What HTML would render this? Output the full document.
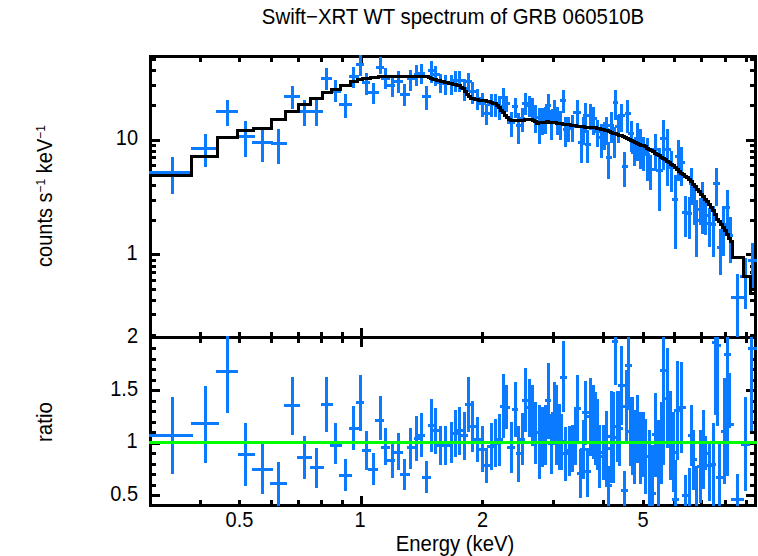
<!DOCTYPE html>
<html><head><meta charset="utf-8"><style>
html,body{margin:0;padding:0;background:#fff;}
svg{display:block;}
</style></head><body>
<svg width="758" height="556" viewBox="0 0 758 556">
<rect width="758" height="556" fill="#fff"/>
<g shape-rendering="crispEdges">
<clipPath id="ct"><rect x="149" y="55" width="608" height="284"/></clipPath>
<clipPath id="cb"><rect x="149" y="336" width="608" height="171"/></clipPath>
<rect x="149" y="55" width="608" height="3" fill="#000"/>
<rect x="149" y="336" width="608" height="3" fill="#000"/>
<rect x="149" y="504" width="608" height="3" fill="#000"/>
<rect x="149" y="55" width="3" height="452" fill="#000"/>
<rect x="754" y="55" width="3" height="452" fill="#000"/>
<rect x="199" y="58" width="3" height="4" fill="#000"/>
<rect x="199" y="332" width="3" height="4" fill="#000"/>
<rect x="199" y="339" width="3" height="4" fill="#000"/>
<rect x="199" y="500" width="3" height="4" fill="#000"/>
<rect x="238" y="58" width="3" height="4" fill="#000"/>
<rect x="238" y="332" width="3" height="4" fill="#000"/>
<rect x="238" y="339" width="3" height="4" fill="#000"/>
<rect x="238" y="500" width="3" height="4" fill="#000"/>
<rect x="270" y="58" width="3" height="4" fill="#000"/>
<rect x="270" y="332" width="3" height="4" fill="#000"/>
<rect x="270" y="339" width="3" height="4" fill="#000"/>
<rect x="270" y="500" width="3" height="4" fill="#000"/>
<rect x="297" y="58" width="3" height="4" fill="#000"/>
<rect x="297" y="332" width="3" height="4" fill="#000"/>
<rect x="297" y="339" width="3" height="4" fill="#000"/>
<rect x="297" y="500" width="3" height="4" fill="#000"/>
<rect x="320" y="58" width="3" height="4" fill="#000"/>
<rect x="320" y="332" width="3" height="4" fill="#000"/>
<rect x="320" y="339" width="3" height="4" fill="#000"/>
<rect x="320" y="500" width="3" height="4" fill="#000"/>
<rect x="341" y="58" width="3" height="4" fill="#000"/>
<rect x="341" y="332" width="3" height="4" fill="#000"/>
<rect x="341" y="339" width="3" height="4" fill="#000"/>
<rect x="341" y="500" width="3" height="4" fill="#000"/>
<rect x="481" y="58" width="3" height="4" fill="#000"/>
<rect x="481" y="332" width="3" height="4" fill="#000"/>
<rect x="481" y="339" width="3" height="4" fill="#000"/>
<rect x="481" y="500" width="3" height="4" fill="#000"/>
<rect x="552" y="58" width="3" height="4" fill="#000"/>
<rect x="552" y="332" width="3" height="4" fill="#000"/>
<rect x="552" y="339" width="3" height="4" fill="#000"/>
<rect x="552" y="500" width="3" height="4" fill="#000"/>
<rect x="602" y="58" width="3" height="4" fill="#000"/>
<rect x="602" y="332" width="3" height="4" fill="#000"/>
<rect x="602" y="339" width="3" height="4" fill="#000"/>
<rect x="602" y="500" width="3" height="4" fill="#000"/>
<rect x="642" y="58" width="3" height="4" fill="#000"/>
<rect x="642" y="332" width="3" height="4" fill="#000"/>
<rect x="642" y="339" width="3" height="4" fill="#000"/>
<rect x="642" y="500" width="3" height="4" fill="#000"/>
<rect x="673" y="58" width="3" height="4" fill="#000"/>
<rect x="673" y="332" width="3" height="4" fill="#000"/>
<rect x="673" y="339" width="3" height="4" fill="#000"/>
<rect x="673" y="500" width="3" height="4" fill="#000"/>
<rect x="700" y="58" width="3" height="4" fill="#000"/>
<rect x="700" y="332" width="3" height="4" fill="#000"/>
<rect x="700" y="339" width="3" height="4" fill="#000"/>
<rect x="700" y="500" width="3" height="4" fill="#000"/>
<rect x="724" y="58" width="3" height="4" fill="#000"/>
<rect x="724" y="332" width="3" height="4" fill="#000"/>
<rect x="724" y="339" width="3" height="4" fill="#000"/>
<rect x="724" y="500" width="3" height="4" fill="#000"/>
<rect x="745" y="58" width="3" height="4" fill="#000"/>
<rect x="745" y="332" width="3" height="4" fill="#000"/>
<rect x="745" y="339" width="3" height="4" fill="#000"/>
<rect x="745" y="500" width="3" height="4" fill="#000"/>
<rect x="360" y="58" width="3" height="8" fill="#000"/>
<rect x="360" y="328" width="3" height="8" fill="#000"/>
<rect x="360" y="339" width="3" height="8" fill="#000"/>
<rect x="360" y="496" width="3" height="8" fill="#000"/>
<rect x="152" y="334" width="4" height="3" fill="#000"/>
<rect x="750" y="334" width="4" height="3" fill="#000"/>
<rect x="152" y="313" width="4" height="3" fill="#000"/>
<rect x="750" y="313" width="4" height="3" fill="#000"/>
<rect x="152" y="299" width="4" height="3" fill="#000"/>
<rect x="750" y="299" width="4" height="3" fill="#000"/>
<rect x="152" y="288" width="4" height="3" fill="#000"/>
<rect x="750" y="288" width="4" height="3" fill="#000"/>
<rect x="152" y="279" width="4" height="3" fill="#000"/>
<rect x="750" y="279" width="4" height="3" fill="#000"/>
<rect x="152" y="271" width="4" height="3" fill="#000"/>
<rect x="750" y="271" width="4" height="3" fill="#000"/>
<rect x="152" y="265" width="4" height="3" fill="#000"/>
<rect x="750" y="265" width="4" height="3" fill="#000"/>
<rect x="152" y="259" width="4" height="3" fill="#000"/>
<rect x="750" y="259" width="4" height="3" fill="#000"/>
<rect x="152" y="253" width="8" height="3" fill="#000"/>
<rect x="746" y="253" width="8" height="3" fill="#000"/>
<rect x="152" y="219" width="4" height="3" fill="#000"/>
<rect x="750" y="219" width="4" height="3" fill="#000"/>
<rect x="152" y="199" width="4" height="3" fill="#000"/>
<rect x="750" y="199" width="4" height="3" fill="#000"/>
<rect x="152" y="184" width="4" height="3" fill="#000"/>
<rect x="750" y="184" width="4" height="3" fill="#000"/>
<rect x="152" y="173" width="4" height="3" fill="#000"/>
<rect x="750" y="173" width="4" height="3" fill="#000"/>
<rect x="152" y="164" width="4" height="3" fill="#000"/>
<rect x="750" y="164" width="4" height="3" fill="#000"/>
<rect x="152" y="156" width="4" height="3" fill="#000"/>
<rect x="750" y="156" width="4" height="3" fill="#000"/>
<rect x="152" y="150" width="4" height="3" fill="#000"/>
<rect x="750" y="150" width="4" height="3" fill="#000"/>
<rect x="152" y="144" width="4" height="3" fill="#000"/>
<rect x="750" y="144" width="4" height="3" fill="#000"/>
<rect x="152" y="139" width="8" height="3" fill="#000"/>
<rect x="746" y="139" width="8" height="3" fill="#000"/>
<rect x="152" y="104" width="4" height="3" fill="#000"/>
<rect x="750" y="104" width="4" height="3" fill="#000"/>
<rect x="152" y="84" width="4" height="3" fill="#000"/>
<rect x="750" y="84" width="4" height="3" fill="#000"/>
<rect x="152" y="69" width="4" height="3" fill="#000"/>
<rect x="750" y="69" width="4" height="3" fill="#000"/>
<rect x="152" y="58" width="4" height="3" fill="#000"/>
<rect x="750" y="58" width="4" height="3" fill="#000"/>
<rect x="152" y="494" width="8" height="3" fill="#000"/>
<rect x="746" y="494" width="8" height="3" fill="#000"/>
<rect x="152" y="484" width="4" height="3" fill="#000"/>
<rect x="750" y="484" width="4" height="3" fill="#000"/>
<rect x="152" y="473" width="4" height="3" fill="#000"/>
<rect x="750" y="473" width="4" height="3" fill="#000"/>
<rect x="152" y="463" width="4" height="3" fill="#000"/>
<rect x="750" y="463" width="4" height="3" fill="#000"/>
<rect x="152" y="452" width="4" height="3" fill="#000"/>
<rect x="750" y="452" width="4" height="3" fill="#000"/>
<rect x="152" y="442" width="8" height="3" fill="#000"/>
<rect x="746" y="442" width="8" height="3" fill="#000"/>
<rect x="152" y="431" width="4" height="3" fill="#000"/>
<rect x="750" y="431" width="4" height="3" fill="#000"/>
<rect x="152" y="421" width="4" height="3" fill="#000"/>
<rect x="750" y="421" width="4" height="3" fill="#000"/>
<rect x="152" y="410" width="4" height="3" fill="#000"/>
<rect x="750" y="410" width="4" height="3" fill="#000"/>
<rect x="152" y="400" width="4" height="3" fill="#000"/>
<rect x="750" y="400" width="4" height="3" fill="#000"/>
<rect x="152" y="389" width="8" height="3" fill="#000"/>
<rect x="746" y="389" width="8" height="3" fill="#000"/>
<rect x="152" y="379" width="4" height="3" fill="#000"/>
<rect x="750" y="379" width="4" height="3" fill="#000"/>
<rect x="152" y="368" width="4" height="3" fill="#000"/>
<rect x="750" y="368" width="4" height="3" fill="#000"/>
<rect x="152" y="358" width="4" height="3" fill="#000"/>
<rect x="750" y="358" width="4" height="3" fill="#000"/>
<rect x="152" y="347" width="4" height="3" fill="#000"/>
<rect x="750" y="347" width="4" height="3" fill="#000"/>
<g clip-path="url(#ct)">
<rect x="171" y="157" width="3" height="37" fill="#0a7aff"/>
<rect x="149" y="171" width="41" height="3" fill="#0a7aff"/>
<rect x="204" y="134" width="3" height="33" fill="#0a7aff"/>
<rect x="191" y="147" width="25" height="3" fill="#0a7aff"/>
<rect x="226" y="100" width="3" height="26" fill="#0a7aff"/>
<rect x="216" y="110" width="22" height="3" fill="#0a7aff"/>
<rect x="244" y="121" width="3" height="36" fill="#0a7aff"/>
<rect x="238" y="135" width="17" height="3" fill="#0a7aff"/>
<rect x="261" y="130" width="3" height="32" fill="#0a7aff"/>
<rect x="252" y="141" width="21" height="3" fill="#0a7aff"/>
<rect x="277" y="129" width="3" height="35" fill="#0a7aff"/>
<rect x="271" y="142" width="16" height="3" fill="#0a7aff"/>
<rect x="291" y="86" width="3" height="23" fill="#0a7aff"/>
<rect x="284" y="95" width="16" height="3" fill="#0a7aff"/>
<rect x="303" y="100" width="3" height="26" fill="#0a7aff"/>
<rect x="300" y="110" width="11" height="3" fill="#0a7aff"/>
<rect x="315" y="100" width="3" height="26" fill="#0a7aff"/>
<rect x="311" y="110" width="12" height="3" fill="#0a7aff"/>
<rect x="325" y="68" width="3" height="22" fill="#0a7aff"/>
<rect x="321" y="77" width="11" height="3" fill="#0a7aff"/>
<rect x="334" y="80" width="3" height="22" fill="#0a7aff"/>
<rect x="332" y="90" width="9" height="3" fill="#0a7aff"/>
<rect x="344" y="94" width="3" height="24" fill="#0a7aff"/>
<rect x="339" y="103" width="13" height="3" fill="#0a7aff"/>
<rect x="352" y="67" width="3" height="21" fill="#0a7aff"/>
<rect x="349" y="75" width="10" height="3" fill="#0a7aff"/>
<rect x="359" y="55" width="3" height="21" fill="#0a7aff"/>
<rect x="356" y="63" width="8" height="3" fill="#0a7aff"/>
<rect x="365" y="73" width="3" height="22" fill="#0a7aff"/>
<rect x="362" y="81" width="8" height="3" fill="#0a7aff"/>
<rect x="372" y="83" width="3" height="21" fill="#0a7aff"/>
<rect x="368" y="91" width="11" height="3" fill="#0a7aff"/>
<rect x="379" y="57" width="3" height="17" fill="#0a7aff"/>
<rect x="376" y="66" width="8" height="3" fill="#0a7aff"/>
<rect x="384" y="68" width="3" height="21" fill="#0a7aff"/>
<rect x="381" y="77" width="9" height="3" fill="#0a7aff"/>
<rect x="391" y="77" width="3" height="20" fill="#0a7aff"/>
<rect x="386" y="84" width="9" height="3" fill="#0a7aff"/>
<rect x="397" y="71" width="3" height="22" fill="#0a7aff"/>
<rect x="393" y="80" width="10" height="3" fill="#0a7aff"/>
<rect x="403" y="84" width="3" height="22" fill="#0a7aff"/>
<rect x="400" y="93" width="10" height="3" fill="#0a7aff"/>
<rect x="409" y="70" width="3" height="21" fill="#0a7aff"/>
<rect x="407" y="77" width="8" height="3" fill="#0a7aff"/>
<rect x="415" y="65" width="3" height="21" fill="#0a7aff"/>
<rect x="414" y="73" width="6" height="3" fill="#0a7aff"/>
<rect x="420" y="64" width="3" height="20" fill="#0a7aff"/>
<rect x="417" y="72" width="8" height="3" fill="#0a7aff"/>
<rect x="425" y="86" width="3" height="24" fill="#0a7aff"/>
<rect x="422" y="95" width="9" height="3" fill="#0a7aff"/>
<rect x="430" y="61" width="3" height="22" fill="#0a7aff"/>
<rect x="428" y="69" width="7" height="3" fill="#0a7aff"/>
<rect x="434" y="66" width="3" height="20" fill="#0a7aff"/>
<rect x="432" y="73" width="8" height="3" fill="#0a7aff"/>
<rect x="439" y="74" width="3" height="19" fill="#0a7aff"/>
<rect x="437" y="81" width="7" height="3" fill="#0a7aff"/>
<rect x="444" y="75" width="3" height="20" fill="#0a7aff"/>
<rect x="441" y="82" width="9" height="3" fill="#0a7aff"/>
<rect x="450" y="75" width="3" height="20" fill="#0a7aff"/>
<rect x="447" y="82" width="8" height="3" fill="#0a7aff"/>
<rect x="454" y="71" width="3" height="21" fill="#0a7aff"/>
<rect x="452" y="79" width="7" height="3" fill="#0a7aff"/>
<rect x="458" y="71" width="3" height="21" fill="#0a7aff"/>
<rect x="456" y="79" width="7" height="3" fill="#0a7aff"/>
<rect x="463" y="79" width="3" height="22" fill="#0a7aff"/>
<rect x="460" y="87" width="8" height="3" fill="#0a7aff"/>
<rect x="467" y="73" width="3" height="19" fill="#0a7aff"/>
<rect x="465" y="80" width="7" height="3" fill="#0a7aff"/>
<rect x="471" y="82" width="3" height="22" fill="#0a7aff"/>
<rect x="469" y="90" width="8" height="3" fill="#0a7aff"/>
<rect x="476" y="89" width="3" height="21" fill="#0a7aff"/>
<rect x="474" y="97" width="7" height="3" fill="#0a7aff"/>
<rect x="481" y="93" width="3" height="24" fill="#0a7aff"/>
<rect x="478" y="102" width="8" height="3" fill="#0a7aff"/>
<rect x="485" y="104" width="3" height="21" fill="#0a7aff"/>
<rect x="483" y="112" width="7" height="3" fill="#0a7aff"/>
<rect x="490" y="94" width="3" height="23" fill="#0a7aff"/>
<rect x="487" y="103" width="8" height="3" fill="#0a7aff"/>
<rect x="494" y="94" width="3" height="23" fill="#0a7aff"/>
<rect x="492" y="103" width="7" height="3" fill="#0a7aff"/>
<rect x="498" y="96" width="3" height="24" fill="#0a7aff"/>
<rect x="496" y="105" width="7" height="3" fill="#0a7aff"/>
<rect x="502" y="88" width="3" height="23" fill="#0a7aff"/>
<rect x="500" y="96" width="6" height="3" fill="#0a7aff"/>
<rect x="505" y="96" width="3" height="16" fill="#0a7aff"/>
<rect x="503" y="102" width="7" height="3" fill="#0a7aff"/>
<rect x="510" y="112" width="3" height="25" fill="#0a7aff"/>
<rect x="507" y="121" width="8" height="3" fill="#0a7aff"/>
<rect x="514" y="98" width="3" height="20" fill="#0a7aff"/>
<rect x="512" y="105" width="6" height="3" fill="#0a7aff"/>
<rect x="517" y="113" width="3" height="31" fill="#0a7aff"/>
<rect x="516" y="124" width="6" height="3" fill="#0a7aff"/>
<rect x="521" y="108" width="3" height="24" fill="#0a7aff"/>
<rect x="519" y="117" width="6" height="3" fill="#0a7aff"/>
<rect x="524" y="93" width="3" height="22" fill="#0a7aff"/>
<rect x="522" y="102" width="7" height="3" fill="#0a7aff"/>
<rect x="528" y="96" width="3" height="21" fill="#0a7aff"/>
<rect x="526" y="104" width="7" height="3" fill="#0a7aff"/>
<rect x="531" y="98" width="3" height="24" fill="#0a7aff"/>
<rect x="530" y="107" width="6" height="3" fill="#0a7aff"/>
<rect x="534" y="105" width="3" height="28" fill="#0a7aff"/>
<rect x="533" y="116" width="6" height="3" fill="#0a7aff"/>
<rect x="538" y="108" width="3" height="36" fill="#0a7aff"/>
<rect x="536" y="121" width="7" height="3" fill="#0a7aff"/>
<rect x="541" y="108" width="3" height="27" fill="#0a7aff"/>
<rect x="540" y="118" width="5" height="3" fill="#0a7aff"/>
<rect x="544" y="107" width="3" height="27" fill="#0a7aff"/>
<rect x="542" y="117" width="6" height="3" fill="#0a7aff"/>
<rect x="547" y="94" width="3" height="26" fill="#0a7aff"/>
<rect x="545" y="104" width="6" height="3" fill="#0a7aff"/>
<rect x="550" y="110" width="3" height="30" fill="#0a7aff"/>
<rect x="548" y="121" width="6" height="3" fill="#0a7aff"/>
<rect x="553" y="100" width="3" height="24" fill="#0a7aff"/>
<rect x="551" y="109" width="7" height="3" fill="#0a7aff"/>
<rect x="556" y="107" width="3" height="28" fill="#0a7aff"/>
<rect x="554" y="118" width="7" height="3" fill="#0a7aff"/>
<rect x="559" y="111" width="3" height="29" fill="#0a7aff"/>
<rect x="558" y="122" width="5" height="3" fill="#0a7aff"/>
<rect x="562" y="90" width="3" height="23" fill="#0a7aff"/>
<rect x="560" y="99" width="6" height="3" fill="#0a7aff"/>
<rect x="564" y="117" width="3" height="30" fill="#0a7aff"/>
<rect x="563" y="128" width="5" height="3" fill="#0a7aff"/>
<rect x="567" y="117" width="3" height="25" fill="#0a7aff"/>
<rect x="565" y="127" width="7" height="3" fill="#0a7aff"/>
<rect x="571" y="115" width="3" height="27" fill="#0a7aff"/>
<rect x="569" y="125" width="7" height="3" fill="#0a7aff"/>
<rect x="576" y="100" width="3" height="28" fill="#0a7aff"/>
<rect x="573" y="111" width="8" height="3" fill="#0a7aff"/>
<rect x="580" y="128" width="3" height="35" fill="#0a7aff"/>
<rect x="578" y="141" width="6" height="3" fill="#0a7aff"/>
<rect x="582" y="117" width="3" height="28" fill="#0a7aff"/>
<rect x="580" y="128" width="6" height="3" fill="#0a7aff"/>
<rect x="584" y="103" width="3" height="30" fill="#0a7aff"/>
<rect x="583" y="114" width="5" height="3" fill="#0a7aff"/>
<rect x="586" y="130" width="3" height="33" fill="#0a7aff"/>
<rect x="585" y="143" width="6" height="3" fill="#0a7aff"/>
<rect x="589" y="104" width="3" height="26" fill="#0a7aff"/>
<rect x="588" y="114" width="6" height="3" fill="#0a7aff"/>
<rect x="592" y="107" width="3" height="28" fill="#0a7aff"/>
<rect x="591" y="117" width="6" height="3" fill="#0a7aff"/>
<rect x="596" y="120" width="3" height="27" fill="#0a7aff"/>
<rect x="594" y="130" width="7" height="3" fill="#0a7aff"/>
<rect x="600" y="124" width="3" height="34" fill="#0a7aff"/>
<rect x="598" y="136" width="6" height="3" fill="#0a7aff"/>
<rect x="603" y="122" width="3" height="28" fill="#0a7aff"/>
<rect x="602" y="132" width="5" height="3" fill="#0a7aff"/>
<rect x="605" y="117" width="3" height="28" fill="#0a7aff"/>
<rect x="604" y="128" width="5" height="3" fill="#0a7aff"/>
<rect x="607" y="142" width="3" height="37" fill="#0a7aff"/>
<rect x="606" y="156" width="6" height="3" fill="#0a7aff"/>
<rect x="610" y="112" width="3" height="31" fill="#0a7aff"/>
<rect x="608" y="124" width="6" height="3" fill="#0a7aff"/>
<rect x="613" y="127" width="3" height="31" fill="#0a7aff"/>
<rect x="611" y="139" width="5" height="3" fill="#0a7aff"/>
<rect x="614" y="90" width="3" height="30" fill="#0a7aff"/>
<rect x="613" y="101" width="5" height="3" fill="#0a7aff"/>
<rect x="617" y="115" width="3" height="28" fill="#0a7aff"/>
<rect x="615" y="125" width="7" height="3" fill="#0a7aff"/>
<rect x="620" y="104" width="3" height="28" fill="#0a7aff"/>
<rect x="618" y="114" width="7" height="3" fill="#0a7aff"/>
<rect x="623" y="152" width="3" height="35" fill="#0a7aff"/>
<rect x="622" y="165" width="6" height="3" fill="#0a7aff"/>
<rect x="626" y="100" width="3" height="33" fill="#0a7aff"/>
<rect x="625" y="112" width="6" height="3" fill="#0a7aff"/>
<rect x="630" y="121" width="3" height="31" fill="#0a7aff"/>
<rect x="628" y="132" width="6" height="3" fill="#0a7aff"/>
<rect x="633" y="142" width="3" height="24" fill="#0a7aff"/>
<rect x="631" y="151" width="7" height="3" fill="#0a7aff"/>
<rect x="636" y="123" width="3" height="38" fill="#0a7aff"/>
<rect x="634" y="137" width="6" height="3" fill="#0a7aff"/>
<rect x="639" y="129" width="3" height="40" fill="#0a7aff"/>
<rect x="638" y="144" width="6" height="3" fill="#0a7aff"/>
<rect x="642" y="137" width="3" height="34" fill="#0a7aff"/>
<rect x="640" y="150" width="7" height="3" fill="#0a7aff"/>
<rect x="646" y="138" width="3" height="43" fill="#0a7aff"/>
<rect x="644" y="153" width="6" height="3" fill="#0a7aff"/>
<rect x="649" y="155" width="3" height="35" fill="#0a7aff"/>
<rect x="647" y="168" width="8" height="3" fill="#0a7aff"/>
<rect x="654" y="134" width="3" height="37" fill="#0a7aff"/>
<rect x="652" y="148" width="7" height="3" fill="#0a7aff"/>
<rect x="658" y="148" width="3" height="63" fill="#0a7aff"/>
<rect x="656" y="169" width="7" height="3" fill="#0a7aff"/>
<rect x="662" y="120" width="3" height="50" fill="#0a7aff"/>
<rect x="660" y="137" width="6" height="3" fill="#0a7aff"/>
<rect x="666" y="129" width="3" height="57" fill="#0a7aff"/>
<rect x="664" y="148" width="7" height="3" fill="#0a7aff"/>
<rect x="670" y="151" width="3" height="41" fill="#0a7aff"/>
<rect x="668" y="166" width="7" height="3" fill="#0a7aff"/>
<rect x="674" y="175" width="3" height="74" fill="#0a7aff"/>
<rect x="672" y="198" width="6" height="3" fill="#0a7aff"/>
<rect x="677" y="140" width="3" height="41" fill="#0a7aff"/>
<rect x="675" y="155" width="7" height="3" fill="#0a7aff"/>
<rect x="680" y="147" width="3" height="39" fill="#0a7aff"/>
<rect x="679" y="161" width="6" height="3" fill="#0a7aff"/>
<rect x="684" y="196" width="3" height="41" fill="#0a7aff"/>
<rect x="682" y="211" width="7" height="3" fill="#0a7aff"/>
<rect x="688" y="197" width="3" height="42" fill="#0a7aff"/>
<rect x="686" y="212" width="6" height="3" fill="#0a7aff"/>
<rect x="690" y="168" width="3" height="37" fill="#0a7aff"/>
<rect x="689" y="182" width="5" height="3" fill="#0a7aff"/>
<rect x="693" y="186" width="3" height="39" fill="#0a7aff"/>
<rect x="691" y="200" width="6" height="3" fill="#0a7aff"/>
<rect x="695" y="200" width="3" height="57" fill="#0a7aff"/>
<rect x="694" y="219" width="6" height="3" fill="#0a7aff"/>
<rect x="699" y="198" width="3" height="27" fill="#0a7aff"/>
<rect x="697" y="208" width="6" height="3" fill="#0a7aff"/>
<rect x="701" y="182" width="3" height="52" fill="#0a7aff"/>
<rect x="700" y="200" width="6" height="3" fill="#0a7aff"/>
<rect x="704" y="202" width="3" height="33" fill="#0a7aff"/>
<rect x="703" y="214" width="6" height="3" fill="#0a7aff"/>
<rect x="708" y="208" width="3" height="39" fill="#0a7aff"/>
<rect x="706" y="222" width="7" height="3" fill="#0a7aff"/>
<rect x="712" y="206" width="3" height="51" fill="#0a7aff"/>
<rect x="710" y="223" width="6" height="3" fill="#0a7aff"/>
<rect x="715" y="168" width="3" height="38" fill="#0a7aff"/>
<rect x="713" y="182" width="7" height="3" fill="#0a7aff"/>
<rect x="719" y="229" width="3" height="46" fill="#0a7aff"/>
<rect x="717" y="246" width="7" height="3" fill="#0a7aff"/>
<rect x="722" y="206" width="3" height="50" fill="#0a7aff"/>
<rect x="721" y="223" width="6" height="3" fill="#0a7aff"/>
<rect x="726" y="190" width="3" height="45" fill="#0a7aff"/>
<rect x="724" y="206" width="6" height="3" fill="#0a7aff"/>
<rect x="729" y="217" width="3" height="46" fill="#0a7aff"/>
<rect x="728" y="234" width="5" height="3" fill="#0a7aff"/>
<rect x="736" y="274" width="3" height="63" fill="#0a7aff"/>
<rect x="731" y="296" width="13" height="3" fill="#0a7aff"/>
<rect x="744" y="258" width="3" height="51" fill="#0a7aff"/>
<rect x="740" y="275" width="10" height="3" fill="#0a7aff"/>
<rect x="751" y="243" width="3" height="45" fill="#0a7aff"/>
<rect x="748" y="259" width="9" height="3" fill="#0a7aff"/>
<path d="M150,175.4H191V156.7H217V137.8H237V130.8H253V128.6H271V119.4H285V111.7H298V104.3H310V98.3H322V92.7H331V89.0H340V85.1H350V81.7H357V79.3H362V78.0H370V77.0H378V76.2H380V76.0H382V76.0H384V76.0H386V76.1H388V76.1H390V76.1H392V76.1H394V76.1H396V76.1H398V76.1H400V76.2H402V76.2H404V76.2H406V76.2H408V76.2H410V76.2H412V76.2H414V76.3H416V76.3H418V76.3H420V76.4H422V76.5H424V76.7H426V76.8H428V77.3H430V78.1H432V79.0H434V79.8H436V80.3H438V80.9H440V81.4H442V81.9H444V82.4H446V82.9H448V83.3H450V83.8H452V84.3H454V84.8H456V85.3H458V85.8H460V87.0H462V88.2H464V91.7H466V94.5H468V96.7H470V98.0H472V98.7H474V99.4H476V99.7H478V100.0H480V100.3H482V100.6H484V100.9H486V101.3H488V101.6H490V102.2H492V103.0H494V103.8H496V105.4H498V107.7H500V110.1H502V112.8H504V115.4H506V117.5H508V119.3H510V120.2H512V120.3H514V120.4H516V120.3H518V120.2H520V120.1H522V120.0H524V119.9H526V119.8H528V119.8H530V119.9H532V120.0H534V121.5H536V123.0H538V122.8H540V122.6H542V122.4H544V122.2H546V121.9H548V122.0H550V122.3H552V122.6H554V122.9H556V123.2H558V123.5H560V123.8H562V124.1H564V124.4H566V124.6H568V124.9H570V125.2H572V125.4H574V125.7H576V126.0H578V126.2H580V126.5H582V126.8H584V127.0H586V127.3H588V127.6H590V127.7H592V127.8H594V127.9H596V128.4H598V128.9H600V129.4H602V129.9H604V130.4H606V130.9H608V131.6H610V132.3H612V133.0H614V133.7H616V134.4H618V135.1H620V135.8H622V136.8H624V137.7H626V138.7H628V139.6H630V140.6H632V141.5H634V142.5H636V143.3H638V144.2H640V145.0H642V145.9H644V146.7H646V148.0H648V149.3H650V150.6H652V151.9H654V153.2H656V154.5H658V155.8H660V157.1H662V158.4H664V159.8H666V161.2H668V162.6H670V164.0H672V165.6H674V167.5H676V169.4H678V171.3H680V173.0H682V174.6H684V176.2H686V177.8H688V179.4H690V181.9H692V184.4H694V186.9H696V189.4H698V191.9H700V194.4H702V196.9H704V199.4H706V201.9H708V204.7H710V207.6H712V210.4H714V214.7H716V219.0H718V221.9H720V224.9H722V227.7H724V230.6H726V234.5H728V238.3H730V241.3H732V243.2H732.5V257.3H743V276.6H750.5V293.0H755" fill="none" stroke="#000" stroke-width="3"/>
</g>
<g clip-path="url(#cb)">
<rect x="555" y="385" width="3" height="80" fill="#0a7aff"/>
<rect x="553" y="424" width="7" height="3" fill="#0a7aff"/>
<rect x="558" y="404" width="3" height="66" fill="#0a7aff"/>
<rect x="556" y="436" width="7" height="3" fill="#0a7aff"/>
<rect x="560" y="414" width="3" height="56" fill="#0a7aff"/>
<rect x="558" y="440" width="8" height="3" fill="#0a7aff"/>
<rect x="562" y="341" width="3" height="71" fill="#0a7aff"/>
<rect x="560" y="376" width="7" height="3" fill="#0a7aff"/>
<rect x="564" y="427" width="3" height="54" fill="#0a7aff"/>
<rect x="562" y="452" width="6" height="3" fill="#0a7aff"/>
<rect x="568" y="426" width="3" height="50" fill="#0a7aff"/>
<rect x="566" y="449" width="6" height="3" fill="#0a7aff"/>
<rect x="571" y="425" width="3" height="47" fill="#0a7aff"/>
<rect x="569" y="447" width="7" height="3" fill="#0a7aff"/>
<rect x="574" y="409" width="3" height="56" fill="#0a7aff"/>
<rect x="572" y="435" width="6" height="3" fill="#0a7aff"/>
<rect x="576" y="375" width="3" height="66" fill="#0a7aff"/>
<rect x="574" y="407" width="7" height="3" fill="#0a7aff"/>
<rect x="579" y="449" width="3" height="49" fill="#0a7aff"/>
<rect x="577" y="472" width="7" height="3" fill="#0a7aff"/>
<rect x="582" y="420" width="3" height="59" fill="#0a7aff"/>
<rect x="580" y="448" width="6" height="3" fill="#0a7aff"/>
<rect x="584" y="381" width="3" height="64" fill="#0a7aff"/>
<rect x="582" y="411" width="7" height="3" fill="#0a7aff"/>
<rect x="586" y="448" width="3" height="49" fill="#0a7aff"/>
<rect x="584" y="470" width="7" height="3" fill="#0a7aff"/>
<rect x="589" y="378" width="3" height="78" fill="#0a7aff"/>
<rect x="587" y="415" width="7" height="3" fill="#0a7aff"/>
<rect x="592" y="385" width="3" height="74" fill="#0a7aff"/>
<rect x="590" y="420" width="6" height="3" fill="#0a7aff"/>
<rect x="594" y="392" width="3" height="73" fill="#0a7aff"/>
<rect x="592" y="427" width="7" height="3" fill="#0a7aff"/>
<rect x="596" y="399" width="3" height="71" fill="#0a7aff"/>
<rect x="594" y="433" width="7" height="3" fill="#0a7aff"/>
<rect x="598" y="425" width="3" height="63" fill="#0a7aff"/>
<rect x="596" y="455" width="8" height="3" fill="#0a7aff"/>
<rect x="602" y="425" width="3" height="55" fill="#0a7aff"/>
<rect x="600" y="451" width="6" height="3" fill="#0a7aff"/>
<rect x="605" y="411" width="3" height="75" fill="#0a7aff"/>
<rect x="603" y="447" width="7" height="3" fill="#0a7aff"/>
<rect x="607" y="466" width="3" height="40" fill="#0a7aff"/>
<rect x="605" y="484" width="7" height="3" fill="#0a7aff"/>
<rect x="610" y="391" width="3" height="92" fill="#0a7aff"/>
<rect x="608" y="435" width="7" height="3" fill="#0a7aff"/>
<rect x="612" y="392" width="3" height="91" fill="#0a7aff"/>
<rect x="610" y="436" width="6" height="3" fill="#0a7aff"/>
<rect x="614" y="337" width="3" height="48" fill="#0a7aff"/>
<rect x="612" y="340" width="6" height="3" fill="#0a7aff"/>
<rect x="616" y="391" width="3" height="71" fill="#0a7aff"/>
<rect x="614" y="425" width="6" height="3" fill="#0a7aff"/>
<rect x="618" y="391" width="3" height="75" fill="#0a7aff"/>
<rect x="616" y="427" width="7" height="3" fill="#0a7aff"/>
<rect x="620" y="346" width="3" height="79" fill="#0a7aff"/>
<rect x="618" y="384" width="7" height="3" fill="#0a7aff"/>
<rect x="623" y="471" width="3" height="35" fill="#0a7aff"/>
<rect x="621" y="489" width="7" height="3" fill="#0a7aff"/>
<rect x="625" y="370" width="3" height="74" fill="#0a7aff"/>
<rect x="623" y="405" width="7" height="3" fill="#0a7aff"/>
<rect x="627" y="337" width="3" height="73" fill="#0a7aff"/>
<rect x="625" y="364" width="7" height="3" fill="#0a7aff"/>
<rect x="629" y="397" width="3" height="69" fill="#0a7aff"/>
<rect x="627" y="430" width="7" height="3" fill="#0a7aff"/>
<rect x="631" y="397" width="3" height="78" fill="#0a7aff"/>
<rect x="629" y="434" width="7" height="3" fill="#0a7aff"/>
<rect x="633" y="410" width="3" height="74" fill="#0a7aff"/>
<rect x="631" y="446" width="7" height="3" fill="#0a7aff"/>
<rect x="636" y="395" width="3" height="68" fill="#0a7aff"/>
<rect x="634" y="428" width="7" height="3" fill="#0a7aff"/>
<rect x="639" y="412" width="3" height="72" fill="#0a7aff"/>
<rect x="637" y="447" width="7" height="3" fill="#0a7aff"/>
<rect x="642" y="412" width="3" height="65" fill="#0a7aff"/>
<rect x="640" y="443" width="6" height="3" fill="#0a7aff"/>
<rect x="644" y="419" width="3" height="75" fill="#0a7aff"/>
<rect x="642" y="455" width="8" height="3" fill="#0a7aff"/>
<rect x="648" y="430" width="3" height="76" fill="#0a7aff"/>
<rect x="651" y="445" width="3" height="61" fill="#0a7aff"/>
<rect x="649" y="492" width="7" height="3" fill="#0a7aff"/>
<rect x="654" y="393" width="3" height="84" fill="#0a7aff"/>
<rect x="652" y="433" width="7" height="3" fill="#0a7aff"/>
<rect x="657" y="420" width="3" height="86" fill="#0a7aff"/>
<rect x="660" y="402" width="3" height="82" fill="#0a7aff"/>
<rect x="658" y="442" width="7" height="3" fill="#0a7aff"/>
<rect x="662" y="337" width="3" height="128" fill="#0a7aff"/>
<rect x="660" y="369" width="7" height="3" fill="#0a7aff"/>
<rect x="666" y="348" width="3" height="100" fill="#0a7aff"/>
<rect x="664" y="397" width="6" height="3" fill="#0a7aff"/>
<rect x="669" y="391" width="3" height="89" fill="#0a7aff"/>
<rect x="667" y="434" width="7" height="3" fill="#0a7aff"/>
<rect x="672" y="412" width="3" height="80" fill="#0a7aff"/>
<rect x="670" y="451" width="7" height="3" fill="#0a7aff"/>
<rect x="674" y="460" width="3" height="46" fill="#0a7aff"/>
<rect x="672" y="498" width="7" height="3" fill="#0a7aff"/>
<rect x="676" y="361" width="3" height="99" fill="#0a7aff"/>
<rect x="674" y="409" width="8" height="3" fill="#0a7aff"/>
<rect x="680" y="362" width="3" height="91" fill="#0a7aff"/>
<rect x="678" y="406" width="8" height="3" fill="#0a7aff"/>
<rect x="684" y="475" width="3" height="31" fill="#0a7aff"/>
<rect x="682" y="494" width="8" height="3" fill="#0a7aff"/>
<rect x="688" y="468" width="3" height="38" fill="#0a7aff"/>
<rect x="690" y="405" width="3" height="61" fill="#0a7aff"/>
<rect x="688" y="434" width="7" height="3" fill="#0a7aff"/>
<rect x="692" y="430" width="3" height="60" fill="#0a7aff"/>
<rect x="690" y="458" width="7" height="3" fill="#0a7aff"/>
<rect x="695" y="466" width="3" height="40" fill="#0a7aff"/>
<rect x="699" y="430" width="3" height="73" fill="#0a7aff"/>
<rect x="697" y="465" width="7" height="3" fill="#0a7aff"/>
<rect x="702" y="410" width="3" height="79" fill="#0a7aff"/>
<rect x="700" y="448" width="7" height="3" fill="#0a7aff"/>
<rect x="704" y="436" width="3" height="34" fill="#0a7aff"/>
<rect x="702" y="452" width="8" height="3" fill="#0a7aff"/>
<rect x="708" y="441" width="3" height="60" fill="#0a7aff"/>
<rect x="706" y="464" width="7" height="3" fill="#0a7aff"/>
<rect x="712" y="423" width="3" height="83" fill="#0a7aff"/>
<rect x="710" y="463" width="6" height="3" fill="#0a7aff"/>
<rect x="714" y="337" width="3" height="78" fill="#0a7aff"/>
<rect x="712" y="341" width="7" height="3" fill="#0a7aff"/>
<rect x="716" y="337" width="3" height="89" fill="#0a7aff"/>
<rect x="714" y="344" width="7" height="3" fill="#0a7aff"/>
<rect x="718" y="444" width="3" height="62" fill="#0a7aff"/>
<rect x="716" y="476" width="8" height="3" fill="#0a7aff"/>
<rect x="723" y="378" width="3" height="106" fill="#0a7aff"/>
<rect x="721" y="430" width="7" height="3" fill="#0a7aff"/>
<rect x="726" y="337" width="3" height="139" fill="#0a7aff"/>
<rect x="724" y="353" width="7" height="3" fill="#0a7aff"/>
<rect x="728" y="373" width="3" height="55" fill="#0a7aff"/>
<rect x="726" y="423" width="8" height="3" fill="#0a7aff"/>
<rect x="736" y="474" width="3" height="32" fill="#0a7aff"/>
<rect x="731" y="498" width="13" height="3" fill="#0a7aff"/>
<rect x="744" y="397" width="3" height="94" fill="#0a7aff"/>
<rect x="741" y="443" width="9" height="3" fill="#0a7aff"/>
<rect x="750" y="337" width="3" height="94" fill="#0a7aff"/>
<rect x="748" y="347" width="9" height="3" fill="#0a7aff"/>
<rect x="171" y="397" width="3" height="77" fill="#0a7aff"/>
<rect x="149" y="434" width="44" height="3" fill="#0a7aff"/>
<rect x="204" y="386" width="3" height="77" fill="#0a7aff"/>
<rect x="191" y="422" width="28" height="3" fill="#0a7aff"/>
<rect x="226" y="336" width="3" height="77" fill="#0a7aff"/>
<rect x="216" y="370" width="22" height="3" fill="#0a7aff"/>
<rect x="244" y="423" width="3" height="63" fill="#0a7aff"/>
<rect x="238" y="453" width="17" height="3" fill="#0a7aff"/>
<rect x="261" y="444" width="3" height="50" fill="#0a7aff"/>
<rect x="252" y="468" width="21" height="3" fill="#0a7aff"/>
<rect x="277" y="462" width="3" height="44" fill="#0a7aff"/>
<rect x="270" y="482" width="17" height="3" fill="#0a7aff"/>
<rect x="291" y="377" width="3" height="58" fill="#0a7aff"/>
<rect x="284" y="404" width="16" height="3" fill="#0a7aff"/>
<rect x="303" y="436" width="3" height="43" fill="#0a7aff"/>
<rect x="297" y="456" width="15" height="3" fill="#0a7aff"/>
<rect x="315" y="448" width="3" height="40" fill="#0a7aff"/>
<rect x="310" y="466" width="14" height="3" fill="#0a7aff"/>
<rect x="325" y="377" width="3" height="55" fill="#0a7aff"/>
<rect x="321" y="403" width="12" height="3" fill="#0a7aff"/>
<rect x="334" y="423" width="3" height="41" fill="#0a7aff"/>
<rect x="330" y="444" width="12" height="3" fill="#0a7aff"/>
<rect x="344" y="459" width="3" height="32" fill="#0a7aff"/>
<rect x="339" y="474" width="13" height="3" fill="#0a7aff"/>
<rect x="352" y="406" width="3" height="44" fill="#0a7aff"/>
<rect x="349" y="427" width="10" height="3" fill="#0a7aff"/>
<rect x="359" y="375" width="3" height="56" fill="#0a7aff"/>
<rect x="356" y="401" width="8" height="3" fill="#0a7aff"/>
<rect x="365" y="431" width="3" height="39" fill="#0a7aff"/>
<rect x="362" y="449" width="9" height="3" fill="#0a7aff"/>
<rect x="372" y="453" width="3" height="32" fill="#0a7aff"/>
<rect x="368" y="468" width="10" height="3" fill="#0a7aff"/>
<rect x="379" y="396" width="3" height="44" fill="#0a7aff"/>
<rect x="375" y="419" width="9" height="3" fill="#0a7aff"/>
<rect x="384" y="428" width="3" height="37" fill="#0a7aff"/>
<rect x="381" y="446" width="9" height="3" fill="#0a7aff"/>
<rect x="391" y="444" width="3" height="34" fill="#0a7aff"/>
<rect x="386" y="459" width="9" height="3" fill="#0a7aff"/>
<rect x="397" y="433" width="3" height="37" fill="#0a7aff"/>
<rect x="393" y="451" width="10" height="3" fill="#0a7aff"/>
<rect x="403" y="459" width="3" height="31" fill="#0a7aff"/>
<rect x="400" y="473" width="10" height="3" fill="#0a7aff"/>
<rect x="409" y="428" width="3" height="41" fill="#0a7aff"/>
<rect x="407" y="446" width="8" height="3" fill="#0a7aff"/>
<rect x="415" y="416" width="3" height="45" fill="#0a7aff"/>
<rect x="414" y="437" width="6" height="3" fill="#0a7aff"/>
<rect x="420" y="413" width="3" height="44" fill="#0a7aff"/>
<rect x="417" y="434" width="8" height="3" fill="#0a7aff"/>
<rect x="425" y="461" width="3" height="32" fill="#0a7aff"/>
<rect x="422" y="476" width="9" height="3" fill="#0a7aff"/>
<rect x="430" y="399" width="3" height="53" fill="#0a7aff"/>
<rect x="428" y="424" width="7" height="3" fill="#0a7aff"/>
<rect x="434" y="408" width="3" height="46" fill="#0a7aff"/>
<rect x="432" y="429" width="8" height="3" fill="#0a7aff"/>
<rect x="439" y="426" width="3" height="39" fill="#0a7aff"/>
<rect x="437" y="444" width="7" height="3" fill="#0a7aff"/>
<rect x="444" y="426" width="3" height="39" fill="#0a7aff"/>
<rect x="441" y="444" width="9" height="3" fill="#0a7aff"/>
<rect x="450" y="422" width="3" height="41" fill="#0a7aff"/>
<rect x="447" y="441" width="8" height="3" fill="#0a7aff"/>
<rect x="454" y="410" width="3" height="47" fill="#0a7aff"/>
<rect x="452" y="432" width="7" height="3" fill="#0a7aff"/>
<rect x="458" y="407" width="3" height="48" fill="#0a7aff"/>
<rect x="456" y="429" width="7" height="3" fill="#0a7aff"/>
<rect x="463" y="412" width="3" height="48" fill="#0a7aff"/>
<rect x="460" y="434" width="8" height="3" fill="#0a7aff"/>
<rect x="467" y="377" width="3" height="55" fill="#0a7aff"/>
<rect x="465" y="403" width="7" height="3" fill="#0a7aff"/>
<rect x="471" y="401" width="3" height="51" fill="#0a7aff"/>
<rect x="469" y="425" width="8" height="3" fill="#0a7aff"/>
<rect x="476" y="417" width="3" height="45" fill="#0a7aff"/>
<rect x="474" y="438" width="7" height="3" fill="#0a7aff"/>
<rect x="481" y="426" width="3" height="46" fill="#0a7aff"/>
<rect x="478" y="448" width="8" height="3" fill="#0a7aff"/>
<rect x="485" y="448" width="3" height="35" fill="#0a7aff"/>
<rect x="483" y="464" width="7" height="3" fill="#0a7aff"/>
<rect x="490" y="423" width="3" height="47" fill="#0a7aff"/>
<rect x="487" y="445" width="8" height="3" fill="#0a7aff"/>
<rect x="494" y="419" width="3" height="48" fill="#0a7aff"/>
<rect x="492" y="442" width="7" height="3" fill="#0a7aff"/>
<rect x="498" y="414" width="3" height="52" fill="#0a7aff"/>
<rect x="496" y="438" width="7" height="3" fill="#0a7aff"/>
<rect x="502" y="374" width="3" height="64" fill="#0a7aff"/>
<rect x="500" y="405" width="6" height="3" fill="#0a7aff"/>
<rect x="505" y="385" width="3" height="44" fill="#0a7aff"/>
<rect x="503" y="406" width="7" height="3" fill="#0a7aff"/>
<rect x="510" y="422" width="3" height="51" fill="#0a7aff"/>
<rect x="507" y="446" width="8" height="3" fill="#0a7aff"/>
<rect x="514" y="382" width="3" height="55" fill="#0a7aff"/>
<rect x="512" y="408" width="6" height="3" fill="#0a7aff"/>
<rect x="517" y="426" width="3" height="56" fill="#0a7aff"/>
<rect x="516" y="452" width="6" height="3" fill="#0a7aff"/>
<rect x="521" y="413" width="3" height="52" fill="#0a7aff"/>
<rect x="519" y="438" width="6" height="3" fill="#0a7aff"/>
<rect x="524" y="368" width="3" height="64" fill="#0a7aff"/>
<rect x="522" y="399" width="7" height="3" fill="#0a7aff"/>
<rect x="528" y="379" width="3" height="58" fill="#0a7aff"/>
<rect x="526" y="406" width="7" height="3" fill="#0a7aff"/>
<rect x="531" y="385" width="3" height="61" fill="#0a7aff"/>
<rect x="530" y="414" width="6" height="3" fill="#0a7aff"/>
<rect x="534" y="402" width="3" height="62" fill="#0a7aff"/>
<rect x="533" y="431" width="6" height="3" fill="#0a7aff"/>
<rect x="538" y="405" width="3" height="74" fill="#0a7aff"/>
<rect x="536" y="441" width="7" height="3" fill="#0a7aff"/>
<rect x="541" y="407" width="3" height="60" fill="#0a7aff"/>
<rect x="540" y="435" width="5" height="3" fill="#0a7aff"/>
<rect x="544" y="405" width="3" height="60" fill="#0a7aff"/>
<rect x="542" y="433" width="6" height="3" fill="#0a7aff"/>
<rect x="547" y="363" width="3" height="76" fill="#0a7aff"/>
<rect x="545" y="399" width="6" height="3" fill="#0a7aff"/>
<rect x="550" y="414" width="3" height="60" fill="#0a7aff"/>
<rect x="548" y="442" width="6" height="3" fill="#0a7aff"/>
<rect x="553" y="382" width="3" height="63" fill="#0a7aff"/>
<rect x="551" y="412" width="7" height="3" fill="#0a7aff"/>
<rect x="149" y="441" width="608" height="3" fill="#00ff00"/>
</g>
</g>
<text transform="translate(453,23.6) scale(1,1.07)" style="font-family:'Liberation Sans',sans-serif" font-size="20.4" text-anchor="middle">Swift−XRT WT spectrum of GRB 060510B</text>
<text transform="translate(138,144.6) scale(1,1.07)" style="font-family:'Liberation Sans',sans-serif" font-size="20" text-anchor="end">10</text>
<text transform="translate(137.5,259.6) scale(1,1.07)" style="font-family:'Liberation Sans',sans-serif" font-size="20" text-anchor="end">1</text>
<text transform="translate(138,342.6) scale(1,1.07)" style="font-family:'Liberation Sans',sans-serif" font-size="20" text-anchor="end">2</text>
<text transform="translate(138,395.6) scale(1,1.07)" style="font-family:'Liberation Sans',sans-serif" font-size="20" text-anchor="end">1.5</text>
<text transform="translate(137.5,447.6) scale(1,1.07)" style="font-family:'Liberation Sans',sans-serif" font-size="20" text-anchor="end">1</text>
<text transform="translate(138,500.6) scale(1,1.07)" style="font-family:'Liberation Sans',sans-serif" font-size="20" text-anchor="end">0.5</text>
<text transform="translate(239.5,526.6) scale(1,1.07)" style="font-family:'Liberation Sans',sans-serif" font-size="20" text-anchor="middle">0.5</text>
<text transform="translate(360,526.6) scale(1,1.07)" style="font-family:'Liberation Sans',sans-serif" font-size="20" text-anchor="middle">1</text>
<text transform="translate(482.5,526.6) scale(1,1.07)" style="font-family:'Liberation Sans',sans-serif" font-size="20" text-anchor="middle">2</text>
<text transform="translate(643,526.6) scale(1,1.07)" style="font-family:'Liberation Sans',sans-serif" font-size="20" text-anchor="middle">5</text>
<text transform="translate(455,550.6) scale(1,1.07)" style="font-family:'Liberation Sans',sans-serif" font-size="20.3" text-anchor="middle">Energy (keV)</text>
<g transform="translate(52,196) rotate(-90)"><text transform="translate(0,0) scale(1,1.07)" style="font-family:'Liberation Sans',sans-serif" font-size="20" text-anchor="middle">counts s<tspan font-size="12" dy="-7">−1</tspan><tspan dy="7"> keV</tspan><tspan font-size="12" dy="-7">−1</tspan></text></g>
<g transform="translate(52,422) rotate(-90)"><text transform="translate(0,0) scale(1,1.07)" style="font-family:'Liberation Sans',sans-serif" font-size="20.6" text-anchor="middle">ratio</text></g>
</svg>
</body></html>
